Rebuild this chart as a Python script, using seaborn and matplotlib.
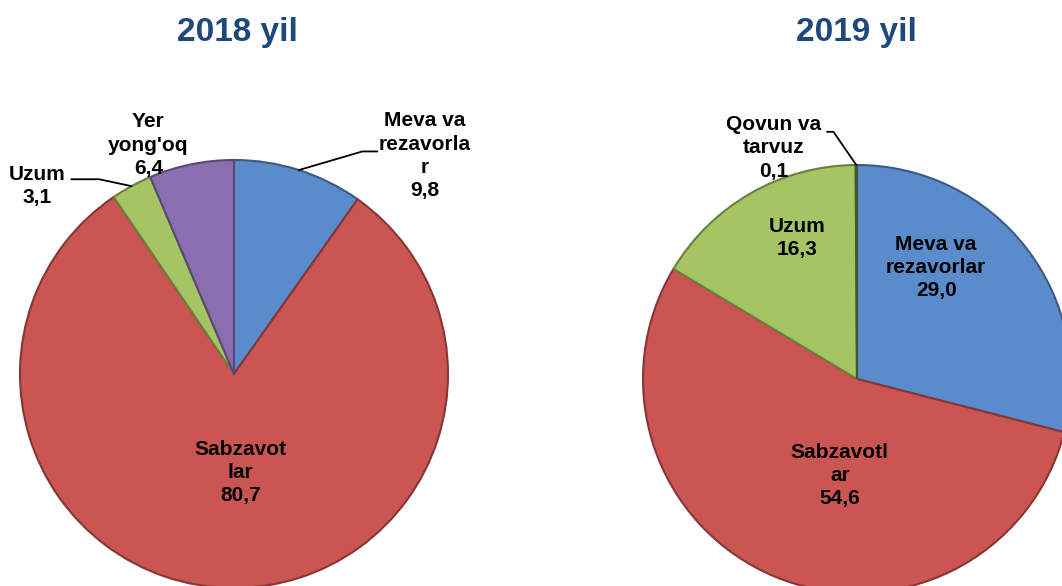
import numpy as np
import matplotlib
matplotlib.use('Agg')
import matplotlib.pyplot as plt
import matplotlib.colors as mcolors
import seaborn as sns

## data
titles = ['2018 yil', '2019 yil']

labels_2018 = ['Meva va\nrezavorla\nr', 'Sabzavot\nlar', 'Uzum', "Yer\nyong'oq"]
values_2018 = [9.8, 80.7, 3.1, 6.4]

labels_2019 = ['Meva va\nrezavorlar', 'Sabzavotl\nar', 'Uzum', 'Qovun va\ntarvuz']
values_2019 = [29.0, 54.6, 16.3, 0.1]

colors_2018 = ['#5A8BCB', '#CB5553', '#A5C463', '#8A6EB0']
colors_2019 = ['#5A8BCB', '#CB5553', '#A5C463', '#6E7F4A']

## layout (pixels): pie centres and radius
W, H, R = 1062, 586, 214
centres = [(234, 374), (857, 379)]
title_x = [237, 856]

## label positions in pie units (x, y), and which labels get a leader line
lab_pos_2018 = [(0.89, 1.02), (0.03, -0.46), (-0.92, 0.88), (-0.40, 1.07)]
lab_pos_2019 = [(0.37, 0.52), (-0.08, -0.45), (-0.28, 0.66), (-0.39, 1.08)]
leader_2018 = {0: [(0.60, 1.04), (0.67, 1.04)], 2: [(-0.63, 0.91), (-0.76, 0.91)]}
leader_2019 = {3: [(-0.11, 1.155), (-0.14, 1.155)]}


def fmt(v):
  return '{0:.1f}'.format(v).replace('.', ',')


def darker(c, f=0.65):
  r, g, b = mcolors.to_rgb(c)
  return (r*f, g*f, b*f)


def draw_pie(fig, cx, cy, values, labels, colors, lab_pos, leaders):
  ax = fig.add_axes([(cx - R)/W, (H - cy - R)/H, 2*R/W, 2*R/H])
  wedges, _ = ax.pie(values, colors=colors, startangle=90, counterclock=False,
                     radius=1.0, wedgeprops=dict(linewidth=1.5))
  for w, c in zip(wedges, colors):
    w.set_edgecolor(darker(c))

  # text labels
  for i, (lab, v) in enumerate(zip(labels, values)):
    x, y = lab_pos[i]
    ax.text(x, y, lab + '\n' + fmt(v), ha='center', va='center',
            fontsize=15, fontweight='bold', color='black', linespacing=1.28)

  # leader lines from wedge midpoints
  cum = np.cumsum([0] + list(values))
  tot = float(sum(values))
  for i, pts in leaders.items():
    mid = (cum[i] + cum[i+1]) / 2.0 / tot
    ang = np.deg2rad(90 - 360*mid)
    xs = [np.cos(ang)] + [p[0] for p in pts]
    ys = [np.sin(ang)] + [p[1] for p in pts]
    ax.plot(xs, ys, color='black', lw=1.3, clip_on=False)

  ax.set_xlim(-1, 1)
  ax.set_ylim(-1, 1)
  ax.set_aspect('equal')
  ax.axis('off')
  return ax


sns.set_theme(style='white')
plt.rcParams['font.family'] = ['Liberation Sans', 'DejaVu Sans']

fig = plt.figure(figsize=(W/100, H/100), dpi=100)
fig.patch.set_facecolor('white')

draw_pie(fig, centres[0][0], centres[0][1], values_2018, labels_2018, colors_2018,
         lab_pos_2018, leader_2018)
draw_pie(fig, centres[1][0], centres[1][1], values_2019, labels_2019, colors_2019,
         lab_pos_2019, leader_2019)

for t, x in zip(titles, title_x):
  fig.text(x/W, 1 - 33/H, t, ha='center', va='center', fontsize=24,
           fontweight='bold', color='#1F497D')

fig.savefig('out.png', dpi=100)
